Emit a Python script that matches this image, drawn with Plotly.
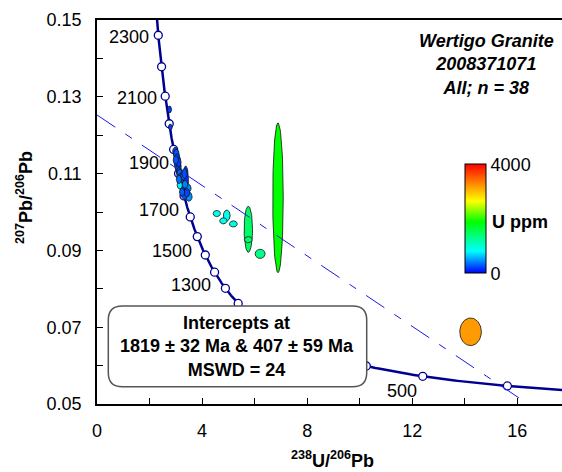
import numpy as np
import plotly.graph_objects as go
from plotly.colors import sample_colorscale

# ---------------- data ----------------
# decay constants (per year) and present-day 238U/235U
L238 = 1.55125e-10
L235 = 9.8485e-10
U_RATIO = 137.88

# concordia tick ages (Ma) and labelled ages
marker_ages = list(range(400, 2400, 100))
label_ages = [2300, 2100, 1900, 1700, 1500, 1300, 500]

# intercept ages (Ma)
upper_age = 1819
lower_age = 407

# analyses: 238U/206Pb, 207Pb/206Pb, half-axes (2 sigma), U ppm
ell_x = [2.76, 2.79,
         2.98, 3.02, 3.05, 3.04, 3.08, 3.10, 3.12, 3.15, 3.18, 3.20, 3.22, 3.25,
         3.27, 3.30, 3.38, 3.46, 3.50, 3.32, 3.10, 3.28, 3.35, 3.15, 3.42, 3.00,
         3.24, 3.33, 3.12,
         4.56, 4.94, 4.81, 5.19, 5.76, 5.76, 6.21, 6.89, 14.22]
ell_y = [0.1267, 0.1221,
         0.1158, 0.1150, 0.1140, 0.1128, 0.1120, 0.1112, 0.1104, 0.1098, 0.1090,
         0.1082, 0.1076, 0.1070, 0.1064, 0.1060, 0.1085, 0.1062, 0.1040, 0.1045,
         0.1130, 0.1095, 0.1072, 0.1070, 0.1050, 0.1135, 0.1052, 0.1100, 0.1085,
         0.0996, 0.0991, 0.0977, 0.0969, 0.0955, 0.0928, 0.0891, 0.1037, 0.0688]
ell_sx = [0.08, 0.07,
          0.10, 0.11, 0.11, 0.10, 0.12, 0.11, 0.10, 0.11, 0.12, 0.11, 0.10, 0.11,
          0.11, 0.12, 0.10, 0.12, 0.12, 0.11, 0.10, 0.10, 0.11, 0.10, 0.11, 0.10,
          0.10, 0.10, 0.10,
          0.14, 0.13, 0.14, 0.15, 0.16, 0.15, 0.19, 0.20, 0.41]
ell_sy = [0.0009, 0.0008,
          0.0011, 0.0013, 0.0011, 0.0012, 0.0013, 0.0011, 0.0012, 0.0013, 0.0011,
          0.0011, 0.0010, 0.0012, 0.0013, 0.0011, 0.0035, 0.0011, 0.0012, 0.0012,
          0.0013, 0.0012, 0.0010, 0.0010, 0.0011, 0.0011, 0.0010, 0.0013, 0.0011,
          0.0008, 0.0014, 0.0008, 0.0008, 0.0060, 0.0008, 0.0012, 0.0195, 0.0036]
ell_u = [180, 200,
         220, 260, 200, 300, 240, 280, 200, 320, 250, 380, 820, 300,
         230, 280, 150, 420, 460, 260, 180, 300, 400, 780, 220, 260,
         290, 240, 340,
         860, 900, 880, 920, 1450, 1450, 1300, 1880, 3180]

u_min, u_max = 0, 4000
colorscale = [[0.0, "rgb(0,0,255)"], [0.2, "rgb(0,255,255)"],
              [0.47, "rgb(0,255,0)"], [0.66, "rgb(255,255,0)"],
              [1.0, "rgb(255,0,0)"]]


def tw(age_ma):
    t = np.asarray(age_ma, dtype=float) * 1e6
    e8 = np.exp(L238 * t) - 1
    e5 = np.exp(L235 * t) - 1
    return 1 / e8, e5 / e8 / U_RATIO


FONT = "Arial, Liberation Sans, sans-serif"
NAVY = "#000090"

fig = go.Figure()

# concordia curve
curve_ages = np.linspace(340, 2600, 600)
cx, cy = tw(curve_ages)
fig.add_trace(go.Scatter(x=cx, y=cy, mode="lines",
                         line=dict(color=NAVY, width=2.5),
                         hoverinfo="skip", showlegend=False))
mx, my = tw(marker_ages)
fig.add_trace(go.Scatter(x=mx, y=my, mode="markers",
                         marker=dict(size=8, color="white",
                                     line=dict(color=NAVY, width=1.3)),
                         hoverinfo="skip", showlegend=False))

# error ellipses
theta = np.linspace(0, 2 * np.pi, 72)
for x0, y0, sx, sy, u in zip(ell_x, ell_y, ell_sx, ell_sy, ell_u):
    col = sample_colorscale(colorscale, [(u - u_min) / (u_max - u_min)])[0]
    fig.add_trace(go.Scatter(x=x0 + sx * np.cos(theta), y=y0 + sy * np.sin(theta),
                             mode="lines", fill="toself", fillcolor=col,
                             line=dict(color="#111111", width=0.8),
                             hoverinfo="skip", showlegend=False))

# discordia through intercepts
ux, uy = [float(v) for v in tw(upper_age)]
lx, ly = [float(v) for v in tw(lower_age)]
slope = (ly - uy) / (lx - ux)
y_at0 = uy - slope * ux
x_end = lx + (0.05 - ly) / slope
fig.add_trace(go.Scatter(x=[0, x_end], y=[y_at0, 0.05], mode="lines",
                         line=dict(color="#1a1ae6", width=1, dash="22px,12px,8px,12px"),
                         hoverinfo="skip", showlegend=False))

# colour bar (dummy trace)
fig.add_trace(go.Scatter(x=ell_x, y=ell_y, mode="markers", hoverinfo="skip",
                         showlegend=False,
                         marker=dict(size=2, opacity=0, color=ell_u,
                                     colorscale=colorscale, cmin=u_min, cmax=u_max,
                                     showscale=True,
                                     colorbar=dict(x=0.7914, xanchor="left", xpad=0,
                                                   y=0.4823, yanchor="middle", ypad=0,
                                                   lenmode="pixels", len=109,
                                                   thickness=21, outlinewidth=1,
                                                   outlinecolor="black",
                                                   tickvals=[0, 4000], ticks="",
                                                   tickfont=dict(size=18, family=FONT, color="black"),
                                                   ))))

# concordia age labels
age_offsets = {2300: (-29, -2), 2100: (-28, -2), 1900: (-25, -14), 1700: (-25, -14),
               1500: (-25, -14), 1300: (-24, -13), 500: (-21, -15)}
lx_, ly_ = tw(label_ages)
for a, xx, yy in zip(label_ages, lx_, ly_):
    dx, dy = age_offsets[a]
    fig.add_annotation(x=xx, y=yy, text=str(a), showarrow=False, xshift=dx, yshift=dy,
                       xanchor="center", yanchor="middle",
                       font=dict(size=18, family=FONT, color="black"))

# intercept box (rounded)
x0b, x1b, y0b, y1b = 0.0243, 0.58, 0.045, 0.2552
rx, ry = 14 / 465, 14 / 384
path = (f"M {x0b+rx},{y0b} L {x1b-rx},{y0b} Q {x1b},{y0b} {x1b},{y0b+ry} "
        f"L {x1b},{y1b-ry} Q {x1b},{y1b} {x1b-rx},{y1b} L {x0b+rx},{y1b} "
        f"Q {x0b},{y1b} {x0b},{y1b-ry} L {x0b},{y0b+ry} Q {x0b},{y0b} {x0b+rx},{y0b} Z")
fig.add_shape(type="path", path=path, xref="paper", yref="paper",
              fillcolor="white", line=dict(color="#555555", width=1.5), layer="above")
fig.add_annotation(x=(x0b + x1b) / 2, y=(y0b + y1b) / 2, xref="paper", yref="paper",
                   xanchor="center", yanchor="middle",
                   text=f"<b>Intercepts at<br>{upper_age} ± 32 Ma & {lower_age} ± 59 Ma<br>MSWD = 24</b>",
                   showarrow=False, align="center",
                   font=dict(size=18, family=FONT, color="black"))

# sample title
fig.add_annotation(x=0.8387, y=0.8854, xref="paper", yref="paper",
                   xanchor="center", yanchor="middle",
                   text="<b><i>Wertigo Granite<br>2008371071<br>All; n = 38</i></b>",
                   showarrow=False, align="center",
                   font=dict(size=18, family=FONT, color="black"))
fig.add_annotation(x=0.9097, y=0.4747, xref="paper", yref="paper", text="<b>U ppm</b>",
                   xanchor="center", yanchor="middle",
                   showarrow=False, font=dict(size=18, family=FONT, color="black"))

# axis titles
fig.add_annotation(x=0.5075, y=-0.1458, xref="paper", yref="paper",
                   xanchor="center", yanchor="middle",
                   text="<b><sup>238</sup>U/<sup>206</sup>Pb</b>", showarrow=False,
                   font=dict(size=18, family=FONT, color="black"))
fig.add_annotation(x=-0.1548, y=0.5365, xref="paper", yref="paper", textangle=-90,
                   xanchor="center", yanchor="middle",
                   text="<b><sup>207</sup>Pb/<sup>206</sup>Pb</b>", showarrow=False,
                   font=dict(size=18, family=FONT, color="black"))

axis_common = dict(showline=True, linecolor="black", linewidth=1.5, mirror=True,
                   showgrid=False, zeroline=False, ticks="inside", ticklen=6,
                   tickcolor="black", tickwidth=1.2,
                   tickfont=dict(size=18, family=FONT, color="black"))
fig.update_xaxes(range=[0, 17.7], tick0=0, dtick=4,
                 minor=dict(dtick=2, ticks="inside", ticklen=6, tickcolor="black"),
                 ticklabelstandoff=10, **axis_common)
fig.update_yaxes(range=[0.05, 0.15], tick0=0.05, dtick=0.02, tickformat=".2f",
                 minor=dict(dtick=0.01, ticks="inside", ticklen=6, tickcolor="black"),
                 ticklabelstandoff=10, **axis_common)

fig.update_layout(width=562, height=472,
                  margin=dict(l=97, r=0, t=20, b=68, autoexpand=False),
                  paper_bgcolor="white", plot_bgcolor="white",
                  font=dict(family=FONT, size=18, color="black"),
                  showlegend=False)

fig.write_html("out.html")
